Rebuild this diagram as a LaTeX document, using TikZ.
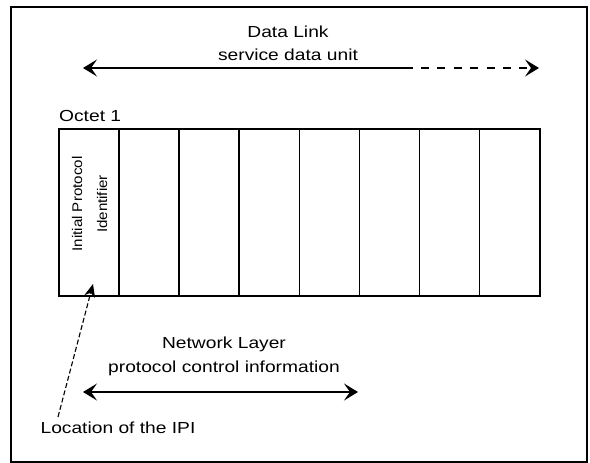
\documentclass[tikz,border=0pt]{standalone}
\usepackage{fontspec}
\setmainfont{Liberation Sans}
\usepackage{graphicx}
\usetikzlibrary{arrows.meta}
\newcommand\wtext[1]{\scalebox{1.2}[1]{#1}}
\tikzset{
  lbl/.style={inner sep=0pt, font=\fontsize{16}{19}\selectfont},
  cell/.style={draw, line width=1.5pt, minimum width=60.125pt, minimum height=167pt, inner sep=0pt, anchor=north west},
  bigtip/.style={-{Stealth[length=14pt,width=17pt,inset=6pt]}},
  spanline/.style={line width=1.3pt},
  ipiline/.style={line width=1.1pt, dash pattern=on 5pt off 2.5pt, -{Stealth[length=13pt,width=11pt,inset=4pt]}},
}
\begin{document}
\begin{tikzpicture}[x=1pt,y=-1pt]
\useasboundingbox (0,0) rectangle (590,463);
% frame
\draw[line width=1.3pt] (11,7) rectangle (587,462);
% top labels
\node[lbl] (dl1) at (288,32) {\wtext{Data Link}};
\node[lbl] (dl2) at (288,55) {\wtext{service data unit}};
\coordinate (dlL) at (83,68);
\coordinate (dlM) at (413,68);
\coordinate (dlR) at (539,68);
\draw[spanline,bigtip] (dlM) -- (dlL);
\draw[spanline,bigtip,dash pattern=on 8pt off 8.4pt,dash phase=8.4pt] (dlM) -- (dlR);
% octets
\node[lbl,anchor=west] (oct) at (59,116) {\wtext{Octet 1}};
\foreach \i in {1,...,8}{
  \node[cell] (c\i) at ({58+(\i-1)*60.125},128) {};
}
\node[inner sep=0pt, rotate=90, align=center, font=\fontsize{14}{25}\selectfont] (ipitxt) at (89.5,204)
  {\scalebox{1.08}[1]{Initial Protocol}\\\scalebox{1.08}[1]{Identifier}};
% network layer
\node[lbl] (nl1) at (224,344) {\wtext{Network Layer}};
\node[lbl] (nl2) at (224,368) {\wtext{protocol control information}};
\coordinate (nlL) at (83,392);
\coordinate (nlR) at (358,392);
\draw[spanline,{Stealth[length=14pt,width=17pt,inset=6pt]}-{Stealth[length=14pt,width=17pt,inset=6pt]}] (nlL) -- (nlR);
% location
\node[lbl] (loc) at (118,428) {\wtext{Location of the IPI}};
\coordinate (ipiTail) at (58,417);
\coordinate (ipiTip) at (93,284);
\draw[ipiline] (ipiTail) -- (ipiTip);
\end{tikzpicture}
\end{document}
